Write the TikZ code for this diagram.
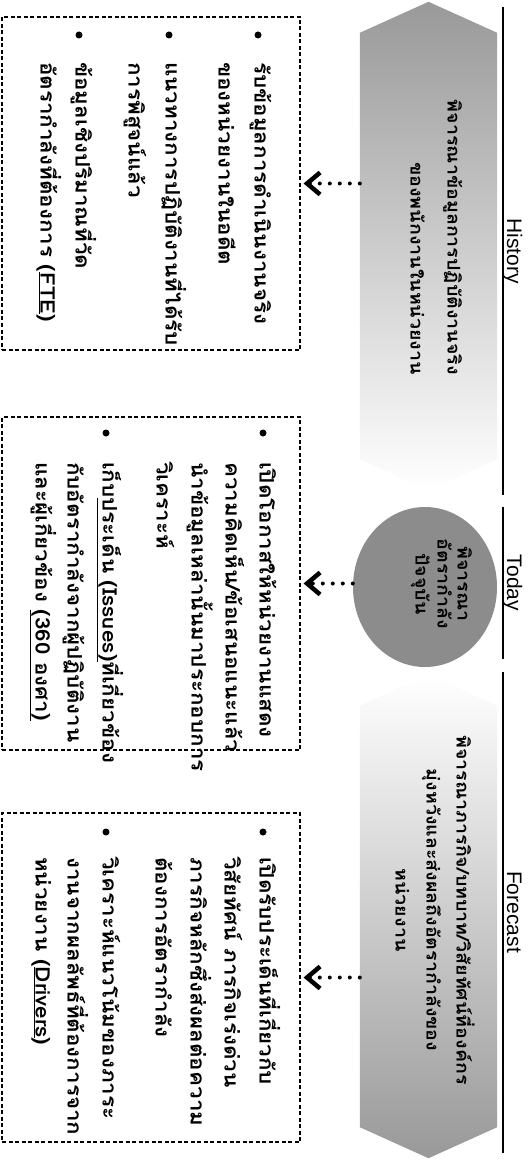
\documentclass[tikz,border=0pt]{standalone}
\usepackage{fontspec}
\setmainfont{Liberation Sans}
\newfontfamily\thaifont[Script=Thai,FakeStretch=1.12]{Loma}
\usetikzlibrary{arrows.meta,shapes.geometric}
\begin{document}
\begin{tikzpicture}[x=1pt,y=1pt,
 hdrline/.style={line width=1.5pt},
 hlabel/.style={rotate=-90,anchor=base,inner sep=0pt,font=\fontsize{21}{24}\selectfont},
 anchorbox/.style={rectangle,inner sep=0pt,minimum width=137pt},
 infobox/.style={draw,dashed,dash pattern=on 4pt off 2.5pt,line width=1.2pt,minimum width=298pt,minimum height=333pt,inner sep=0pt},
 tline/.style={rotate=-90,anchor=west,inner sep=0pt,text height=14pt,text depth=5pt,font=\thaifont\bfseries\fontsize{20}{24}\selectfont},
 sline/.style={tline,font=\thaifont\bfseries\fontsize{17.5}{21}\selectfont},
 bulletdot/.style={circle,fill=black,inner sep=0pt,minimum size=7pt},
 conn/.style={line width=4pt,dash pattern=on 0pt off 10pt,line cap=round,shorten >=3pt,-{Straight Barb[length=13pt,width=22pt,line width=4.5pt]}}
]
\useasboundingbox (0,0) rectangle (532,-1161);
% header
\node[hlabel] (lhist) at (507,-251) {History};
\node[hlabel] (ltoday) at (507,-583) {Today};
\node[hlabel] (lfore) at (507,-912) {Forecast};
\draw[hdrline] (503,-7) -- (503,-495);
\draw[hdrline] (503,-507) -- (503,-659);
\draw[hdrline] (503,-672) -- (503,-1153);
% shapes
\node[anchorbox, minimum height=488pt] (hist) at (428.5,-246) {};
\node[anchorbox, minimum height=483pt] (fcst) at (428.5,-916.5) {};
\node[ellipse, fill=black!45, minimum width=144pt, minimum height=160pt, inner sep=0pt] (today) at (425,-587) {};
\shade[top color=black!40,bottom color=white] (hist.north) -- ([yshift=-31pt]hist.north east) -- ([yshift=31pt]hist.south east) -- (hist.south) -- ([yshift=31pt]hist.south west) -- ([yshift=-31pt]hist.north west) -- cycle;
\shade[top color=white,bottom color=black!40] (fcst.north) -- ([yshift=-31pt]fcst.north east) -- ([yshift=31pt]fcst.south east) -- (fcst.south) -- ([yshift=31pt]fcst.south west) -- ([yshift=-31pt]fcst.north west) -- cycle;
% shape texts
\node[sline, anchor=east] (ht1) at (452,-375) {พิจารณาข้อมูลการปฏิบัติงานจริง};
\node[sline, anchor=east] (ht2) at (415,-375) {ของพนักงานในหน่วยงาน};
\node[sline, anchor=center] (tt1) at (462,-584) {พิจารณา};
\node[sline, anchor=center] (tt2) at (442,-584) {อัตรากำลัง};
\node[sline, anchor=center] (tt3) at (420,-584) {ปัจจุบัน};
\node[sline, anchor=center] (ft1) at (461,-910) {พิจารณาภารกิจ/บทบาท/วิสัยทัศน์ที่องค์กร};
\node[sline, anchor=center] (ft2) at (431,-910) {มุ่งหวังและส่งผลถึงอัตรากำลังของ};
\node[sline, anchor=center] (ft3) at (400,-910) {หน่วยงาน};
% boxes
\node[infobox] (hbox) at (151,-183.5) {};
\node[infobox] (tbox) at (151,-583.5) {};
\node[infobox, minimum height=329pt] (fbox) at (151,-977.5) {};
% connectors
\draw[conn] (hist.west |- hbox.east) -- (hbox.east);
\draw[conn] (today.west |- tbox.east) -- (tbox.east);
\draw[conn] (fcst.west |- fbox.east) -- (fbox.east);
% history items
\node[bulletdot] (hb1) at (258,-35) {};
\node[tline] (h1a) at (259,-62) {รับข้อมูลการดำเนินงานจริง};
\node[tline] (h1b) at (223,-62) {ของหน่วยงานในอดีต};
\node[bulletdot] (hb2) at (169,-35) {};
\node[tline] (h2a) at (170,-62) {แนวทางการปฏิบัติงานที่ได้รับ};
\node[tline] (h2b) at (133,-62) {การพิสูจน์แล้ว};
\node[bulletdot] (hb3) at (79,-35) {};
\node[tline] (h3a) at (80,-62) {ข้อมูลเชิงปริมาณที่วัด};
\node[tline] (h3b) at (45,-62) {อัตรากำลังที่ต้องการ (\underline{FTE})};
% today items
\node[bulletdot] (tb1) at (263,-433) {};
\node[tline] (t1a) at (264,-462) {เปิดโอกาสให้หน่วยงานแสดง};
\node[tline] (t1b) at (230,-462) {ความคิดเห็น/ข้อเสนอแนะแล้ว};
\node[tline] (t1c) at (196,-462) {นำข้อมูลเหล่านั้นมาประกอบการ};
\node[tline] (t1d) at (161,-462) {วิเคราะห์};
\node[bulletdot] (tb2) at (106,-433) {};
\node[tline] (t2a) at (107,-462) {เก็บ\underline{ประเด็น (Issues)}ที่เกี่ยวข้อง};
\node[tline] (t2b) at (72,-462) {กับอัตรากำลังจากผู้ปฏิบัติงาน};
\node[tline] (t2c) at (40,-462) {และผู้เกี่ยวข้อง \underline{(360 องศา)}};
% forecast items
\node[bulletdot] (fb1) at (263,-832) {};
\node[tline] (f1a) at (264,-857) {เปิดรับประเด็นที่เกี่ยวกับ};
\node[tline] (f1b) at (229,-857) {วิสัยทัศน์ ภารกิจเร่งด่วน};
\node[tline] (f1c) at (195,-857) {ภารกิจหลักซึ่งส่งผลต่อความ};
\node[tline] (f1d) at (160,-857) {ต้องการอัตรากำลัง};
\node[bulletdot] (fb2) at (106,-832) {};
\node[tline] (f2a) at (107,-857) {วิเคราะห์แนวโน้มของภาระ};
\node[tline] (f2b) at (72,-857) {งานจากผลลัพธ์ที่ต้องการจาก};
\node[tline] (f2c) at (40,-857) {หน่วยงาน (\underline{Drivers})};
\end{tikzpicture}
\end{document}
